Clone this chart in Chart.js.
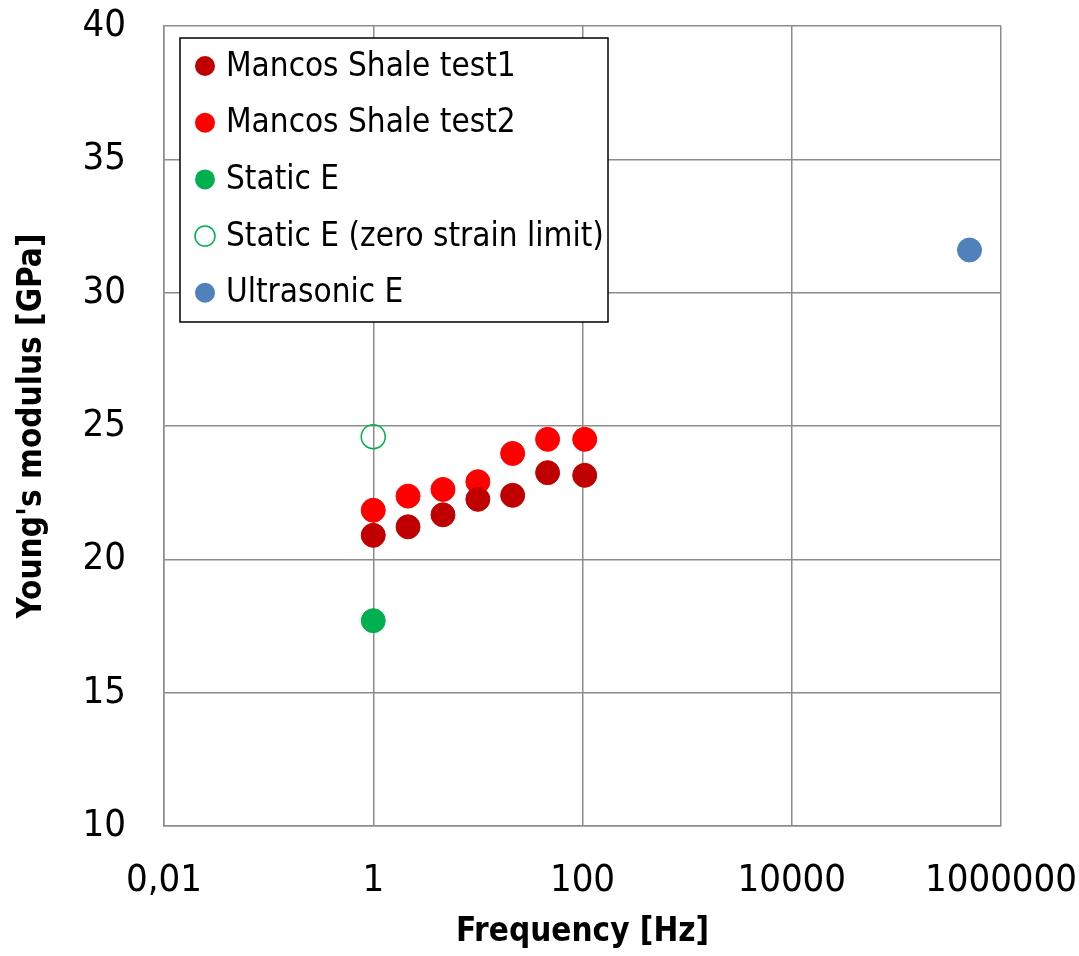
<!DOCTYPE html>
<html>
<head>
<meta charset="utf-8">
<script src="https://cdn.jsdelivr.net/npm/chart.js@4.4.0/dist/chart.umd.min.js"></script>
<style>
  body { margin: 0; background: #fff; }
  #wrap { width: 1079px; height: 956px; }
</style>
</head>
<body>
<div id="wrap"><canvas id="myChart" width="1079" height="956"></canvas></div>
<script>
// frequencies [Hz] and Young's modulus [GPa]
const freqTests = [1, 2.15, 4.64, 10, 21.5, 46.4, 105];
const test1E = [20.9, 21.22, 21.67, 22.25, 22.4, 23.25, 23.15];
const test2E = [21.84, 22.37, 22.62, 22.91, 23.97, 24.5, 24.5];
const staticFreq = [1];
const staticE = [17.7];
const staticZeroFreq = [1];
const staticZeroE = [24.6];
const ultraFreq = [500000];
const ultraE = [31.6];
const xTickValues = [0.01, 1, 100, 10000, 1000000];

const FONT = "'DejaVu Sans Condensed', 'Liberation Sans', sans-serif";

function pts(xs, ys) {
    return xs.map((x, i) => ({ x: x, y: ys[i] }));
}

// legend drawn inside the plot area, like the original
const insideLegend = {
    id: 'insideLegend',
    afterDraw(chart) {
        const c = chart.ctx;
        const area = chart.chartArea;
        const left = area.left + 16, top = area.top + 12;
        const w = 428, h = 284;
        c.save();
        c.fillStyle = '#fff';
        c.fillRect(left, top, w, h);
        c.strokeStyle = '#000';
        c.lineWidth = 1.5;
        c.strokeRect(left, top, w, h);
        c.font = '33px ' + FONT;
        c.textBaseline = 'middle';
        chart.data.datasets.forEach((ds, i) => {
            const y = top + 28 + i * 56.7;
            c.beginPath();
            c.arc(left + 25, y, 10, 0, Math.PI * 2);
            if (ds.backgroundColor === 'transparent') {
                c.fillStyle = '#fff';
                c.fill();
                c.strokeStyle = ds.borderColor;
                c.lineWidth = 1.5;
                c.stroke();
            } else {
                c.fillStyle = ds.backgroundColor;
                c.fill();
            }
            c.fillStyle = '#000';
            c.fillText(ds.label, left + 46, y + 1);
        });
        c.restore();
    }
};

const ctx = document.getElementById('myChart').getContext('2d');
new Chart(ctx, {
    type: 'scatter',
    data: {
        datasets: [
            { label: 'Mancos Shale test1', data: pts(freqTests, test1E), backgroundColor: '#C00000', borderColor: '#C00000', pointRadius: 12, pointHoverRadius: 12 },
            { label: 'Mancos Shale test2', data: pts(freqTests, test2E), backgroundColor: '#FF0000', borderColor: '#FF0000', pointRadius: 12, pointHoverRadius: 12 },
            { label: 'Static E', data: pts(staticFreq, staticE), backgroundColor: '#00B050', borderColor: '#00B050', pointRadius: 12, pointHoverRadius: 12 },
            { label: 'Static E (zero strain limit)', data: pts(staticZeroFreq, staticZeroE), backgroundColor: 'transparent', borderColor: '#00B050', borderWidth: 1.5, pointRadius: 12, pointHoverRadius: 12 },
            { label: 'Ultrasonic E', data: pts(ultraFreq, ultraE), backgroundColor: '#4F81BD', borderColor: '#4F81BD', pointRadius: 12, pointHoverRadius: 12 }
        ]
    },
    options: {
        responsive: false,
        animation: false,
        layout: { padding: 0 },
        plugins: { legend: { display: false }, tooltip: { enabled: false } },
        scales: {
            x: {
                type: 'logarithmic',
                min: 0.01,
                max: 1000000,
                afterBuildTicks: (axis) => { axis.ticks = xTickValues.map(v => ({ value: v })); },
                afterFit: (axis) => {
                    axis.height = 130;
                    axis.paddingLeft = 0;
                    axis.paddingRight = 78;
                },
                grid: { color: '#8c8c8c', lineWidth: 1.5, drawTicks: false },
                border: { color: '#8c8c8c', width: 1.5 },
                ticks: {
                    padding: 32,
                    color: '#000',
                    font: { family: FONT, size: 38 },
                    maxRotation: 0,
                    autoSkip: false,
                    callback: (v) => String(v).replace('.', ',')
                },
                title: {
                    display: true,
                    text: 'Frequency [Hz]',
                    color: '#000',
                    font: { family: FONT, size: 33, weight: 'bold' },
                    padding: { top: 0, bottom: 4 }
                }
            },
            y: {
                min: 10,
                max: 40,
                afterFit: (axis) => {
                    axis.width = 164;
                    axis.paddingTop = 26;
                    axis.paddingBottom = 0;
                },
                grid: { color: '#8c8c8c', lineWidth: 1.5, drawTicks: false },
                border: { color: '#8c8c8c', width: 1.5 },
                ticks: {
                    stepSize: 5,
                    padding: 38,
                    color: '#000',
                    font: { family: FONT, size: 38 }
                },
                title: {
                    display: true,
                    text: "Young's modulus [GPa]",
                    color: '#000',
                    font: { family: FONT, size: 33, weight: 'bold' },
                    padding: { top: 13, bottom: 0 }
                }
            }
        }
    },
    plugins: [insideLegend]
});
</script>
</body>
</html>
